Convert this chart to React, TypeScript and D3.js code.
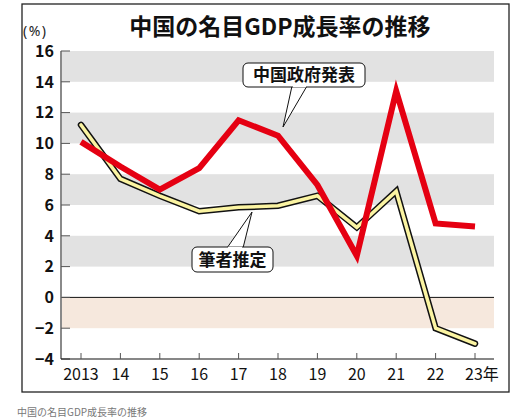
import React from 'react';
import * as d3 from 'd3';

const years = [2013, 2014, 2015, 2016, 2017, 2018, 2019, 2020, 2021, 2022, 2023];
const yearLabels = ['2013', '14', '15', '16', '17', '18', '19', '20', '21', '22', '23年'];
const governmentValues = [10.1, 8.5, 7.0, 8.4, 11.5, 10.5, 7.3, 2.7, 13.4, 4.8, 4.6];
const estimateValues = [11.2, 7.7, 6.6, 5.6, 5.85, 5.95, 6.6, 4.55, 6.9, -2.0, -3.0];
const yTicks = [-4, -2, 0, 2, 4, 6, 8, 10, 12, 14, 16];
const greyBands = [[14, 16], [10, 12], [6, 8], [2, 4]];
const pinkBands = [[-2, 0]];

const title = '中国の名目GDP成長率の推移';
const unitLabel = '(%)';
const govLabel = '中国政府発表';
const estLabel = '筆者推定';
const caption = '中国の名目GDP成長率の推移';

const FONT = '"Noto Sans CJK JP", "Noto Sans", sans-serif';

export default function App() {
  const W = 528, H = 418;
  const axisX = 61, plotRight = 494;
  const x = d3.scaleLinear().domain([2013, 2023]).range([81, 475]);
  const y = d3.scaleLinear().domain([-4, 16]).range([359, 51]);

  const line = d3.line<number>()
    .x((_, i) => x(years[i]))
    .y((d) => y(d))
    .curve(d3.curveLinear);

  const fmt = (v: number) => (v < 0 ? '−' + Math.abs(v) : String(v));

  return (
    <svg width={W} height={H} style={{ position: 'absolute', left: 0, top: 0, background: '#fff' }} fontFamily={FONT}>
      <rect x={22} y={4} width={487} height={388} fill="#fff" stroke="#222" strokeWidth={1.3} />
      {greyBands.map(([a, b], i) => (
        <rect key={'g' + i} x={axisX} y={y(b)} width={plotRight - axisX} height={y(a) - y(b)} fill="#e2e2e2" />
      ))}
      {pinkBands.map(([a, b], i) => (
        <rect key={'p' + i} x={axisX} y={y(b)} width={plotRight - axisX} height={y(a) - y(b)} fill="#f6e8dd" />
      ))}
      <line x1={axisX} x2={plotRight} y1={y(0)} y2={y(0)} stroke="#111" strokeWidth={1} />
      {/* y axis */}
      <line x1={axisX} x2={axisX} y1={y(16)} y2={y(-4)} stroke="#8a8a8a" strokeWidth={2} />
      {yTicks.map((t) => (
        <g key={'yt' + t}>
          <line x1={axisX} x2={axisX + 9} y1={y(t)} y2={y(t)} stroke="#555" strokeWidth={1} />
          <text x={54} y={y(t)} dy="0.36em" textAnchor="end" fontSize={16} fontWeight={700} fill="#111">{fmt(t)}</text>
        </g>
      ))}
      {/* x axis */}
      <line x1={axisX} x2={plotRight} y1={y(-4)} y2={y(-4)} stroke="#111" strokeWidth={1.2} />
      {years.map((yr, i) => (
        <g key={'xt' + yr}>
          <line x1={x(yr)} x2={x(yr)} y1={y(-4)} y2={y(-4) - 6} stroke="#555" strokeWidth={1} />
          <text x={x(yr) + (i === years.length - 1 ? 7 : 0)} y={374} dy="0.35em" textAnchor="middle" fontSize={16} fill="#111">{yearLabels[i]}</text>
        </g>
      ))}
      {/* estimate line: black outline with yellow core */}
      <path d={line(estimateValues) || ''} fill="none" stroke="#111" strokeWidth={6.5} strokeLinejoin="miter" strokeLinecap="round" />
      <path d={line(estimateValues) || ''} fill="none" stroke="#fbf4a2" strokeWidth={3.5} strokeLinejoin="miter" strokeLinecap="round" />
      {/* government line */}
      <path d={line(governmentValues) || ''} fill="none" stroke="#e50012" strokeWidth={6} strokeLinejoin="miter" strokeLinecap="butt" />
      {/* callout: government */}
      <path d="M292,86 L283,127 L307,86" fill="#fff" stroke="#111" strokeWidth={1} />
      <rect x={243} y={63} width={122} height={24} rx={5} fill="#fff" stroke="#111" strokeWidth={1} />
      <path d="M293,86.5 L306,86.5" stroke="#fff" strokeWidth={1.5} />
      <text x={304} y={75} dy="0.36em" textAnchor="middle" fontSize={17} fontWeight={700} fill="#111">{govLabel}</text>
      {/* callout: estimate */}
      <path d="M227,248 L252,212 L243,248" fill="#fff" stroke="#111" strokeWidth={1} />
      <rect x={192} y={247} width={81} height={25} rx={5} fill="#fff" stroke="#111" strokeWidth={1} />
      <path d="M228,247.5 L242,247.5" stroke="#fff" strokeWidth={1.5} />
      <text x={232.5} y={259.5} dy="0.36em" textAnchor="middle" fontSize={17} fontWeight={700} fill="#111">{estLabel}</text>
      {/* title and unit */}
      <text x={280} y={27} dy="0.36em" textAnchor="middle" fontSize={23} fontWeight={700} fill="#111">{title}</text>
      <text x={23} y={31} dy="0.36em" fontSize={14} letterSpacing={1.5} fill="#222" fontFamily='"Noto Sans", sans-serif'>{unitLabel}</text>
      <text x={17} y={412} dy="0.36em" fontSize={10} fill="#777">{caption}</text>
    </svg>
  );
}
